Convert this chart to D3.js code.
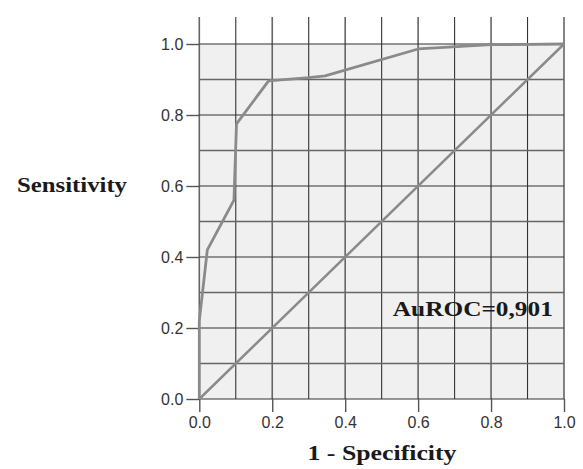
<!DOCTYPE html>
<html>
<head>
<meta charset="utf-8">
<script src="https://cdn.jsdelivr.net/npm/d3@7"></script>
<style>
  body { margin: 0; background: #fff; }
  .tick text { font-family: "Liberation Sans", Arial, sans-serif; font-size: 16px; fill: #333; }
  .axis-label { font-family: "Liberation Serif", "Times New Roman", serif; font-weight: bold; fill: #1a1a1a; }
</style>
</head>
<body>
<svg id="roc"></svg>
<script>
// ROC curve points (1 - specificity, sensitivity)
const fpr = [0, 0, 0.022, 0.095, 0.102, 0.19, 0.30, 0.345, 0.6, 0.8, 1.0];
const tpr = [0, 0.22, 0.42, 0.56, 0.775, 0.896, 0.905, 0.91, 0.986, 0.998, 1.0];
const refLine = [0, 1];
const tickValues = [0, 0.2, 0.4, 0.6, 0.8, 1.0];
const gridValues = d3.range(0, 1.0001, 0.1);
const aucLabel = "AuROC=0,901";

const width = 583, height = 469;
const margin = { top: 44, right: 19, bottom: 70, left: 199.3 };
const w = width - margin.left - margin.right;
const h = height - margin.top - margin.bottom;

const svg = d3.select("#roc").attr("width", width).attr("height", height);
const g = svg.append("g").attr("transform", `translate(${margin.left},${margin.top})`);

const x = d3.scaleLinear().domain([0, 1]).range([0, w]);
const y = d3.scaleLinear().domain([0, 1]).range([h, 0]);

// background
g.append("rect").attr("x", 0).attr("y", 0).attr("width", w).attr("height", h).attr("fill", "#f0f0f0");

// grid - verticals run up above the plot
g.selectAll(".vgrid").data(gridValues).enter().append("line")
  .attr("x1", d => x(d)).attr("x2", d => x(d))
  .attr("y1", -27).attr("y2", h)
  .attr("stroke", (d, i) => i % 2 ? "#333" : "#666")
  .attr("stroke-width", (d, i) => i % 2 ? 1.1 : 1.6);

g.selectAll(".hgrid").data(gridValues).enter().append("line")
  .attr("x1", 0).attr("x2", w)
  .attr("y1", d => y(d)).attr("y2", d => y(d))
  .attr("stroke", (d, i) => i % 2 ? "#666" : "#333")
  .attr("stroke-width", (d, i) => i % 2 ? 1.6 : 1.1);

// axes
const xAxis = g.append("g").attr("transform", `translate(0,${h})`)
  .call(d3.axisBottom(x).tickValues(tickValues).tickFormat(d3.format(".1f")).tickSize(13).tickPadding(5));
const yAxis = g.append("g")
  .call(d3.axisLeft(y).tickValues(tickValues).tickFormat(d3.format(".1f")).tickSize(13).tickPadding(3));
[xAxis, yAxis].forEach(a => {
  a.select(".domain").remove();
  a.selectAll(".tick line").attr("stroke", "#555").attr("stroke-width", 1.4);
});

// curves
const line = d3.line().x(d => x(d[0])).y(d => y(d[1]));
g.append("path").datum(refLine.map(d => [d, d]))
  .attr("d", line).attr("fill", "none").attr("stroke", "#8a8a8a").attr("stroke-width", 2.5);
g.append("path").datum(fpr.map((d, i) => [d, tpr[i]]))
  .attr("d", line).attr("fill", "none").attr("stroke", "#8a8a8a").attr("stroke-width", 2.8)
  .attr("stroke-linejoin", "round");

// labels
g.append("text").attr("class", "axis-label")
  .attr("x", x(0.75)).attr("y", y(0.234))
  .attr("font-size", 22).attr("text-anchor", "middle")
  .attr("textLength", 160).attr("lengthAdjust", "spacingAndGlyphs")
  .text(aucLabel);

svg.append("text").attr("class", "axis-label")
  .attr("x", 72).attr("y", 192)
  .attr("font-size", 21).attr("text-anchor", "middle")
  .attr("textLength", 110).attr("lengthAdjust", "spacingAndGlyphs")
  .text("Sensitivity");

svg.append("text").attr("class", "axis-label")
  .attr("x", 382).attr("y", 460)
  .attr("font-size", 21).attr("text-anchor", "middle")
  .attr("textLength", 149).attr("lengthAdjust", "spacingAndGlyphs")
  .text("1 - Specificity");
</script>
</body>
</html>
